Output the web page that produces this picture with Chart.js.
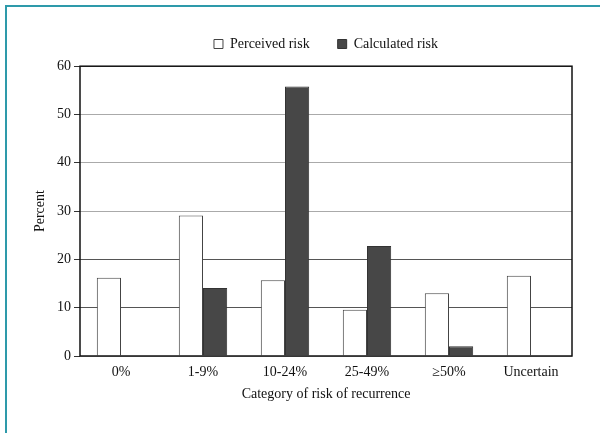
<!DOCTYPE html>
<html>
<head>
<meta charset="utf-8">
<script src="https://cdn.jsdelivr.net/npm/chart.js@4"></script>
<style>
  body { margin: 0; background: #fff; }
  #wrap { position: relative; width: 600px; height: 433px; }
  #frame { position: absolute; left: 5px; top: 5px; right: -5px; bottom: -5px;
           border-left: 2px solid #2e9aaa; border-top: 2px solid #2e9aaa; }
  canvas { position: absolute; left: 0; top: 0; }
</style>
</head>
<body>
<div id="wrap">
  <div id="frame"></div>
  <canvas id="chart" width="600" height="433"></canvas>
</div>
<script>
const categories = ['0%', '1-9%', '10-24%', '25-49%', '\u226550%', 'Uncertain'];
const perceived = [16.2, 29.1, 15.7, 9.6, 13.0, 16.6];
const calculated = [null, 14.1, 55.8, 22.8, 2.0, null];
const yTicks = [0, 10, 20, 30, 40, 50, 60];

const serif = 'Liberation Serif';

// box around the plot (top and right edges)
const frameBox = {
    id: 'frameBox',
    afterDraw(chart) {
        const a = chart.chartArea;
        const c = chart.ctx;
        c.save();
        c.strokeStyle = '#111';
        c.lineWidth = 1.5;
        c.strokeRect(a.left, a.top, a.right - a.left, a.bottom - a.top);
        c.restore();
    }
};

new Chart(document.getElementById('chart'), {
    type: 'bar',
    data: {
        labels: categories,
        datasets: [{
            label: 'Perceived risk',
            data: perceived,
            backgroundColor: '#ffffff',
            borderColor: '#444444',
            borderWidth: 1
        }, {
            label: 'Calculated risk',
            data: calculated,
            backgroundColor: '#474747',
            borderColor: '#333333',
            borderWidth: 1
        }]
    },
    options: {
        responsive: false,
        animation: false,
        categoryPercentage: 0.59,
        barPercentage: 1,
        layout: { padding: { top: 9, right: 28, left: 0, bottom: 0 } },
        plugins: {
            legend: {
                position: 'top',
                fullSize: false,
                labels: {
                    font: { family: serif, size: 14 },
                    color: '#111',
                    boxWidth: 9,
                    boxHeight: 9,
                    padding: 28
                }
            },
            // empty spacer between legend and plot
            title: {
                display: true,
                text: ' ',
                weight: 500,
                fullSize: false,
                font: { size: 1 },
                padding: { top: 0, bottom: 4 }
            },
            tooltip: { enabled: false }
        },
        scales: {
            x: {
                grid: { display: false, drawTicks: false },
                border: { display: false },
                ticks: { font: { family: serif, size: 14 }, color: '#111', padding: 8 },
                title: {
                    display: true,
                    text: 'Category of risk of recurrence',
                    font: { family: serif, size: 14 },
                    color: '#111',
                    padding: { top: 4, bottom: 30 }
                },
                afterFit(scale) { scale.height = 77; }
            },
            y: {
                min: 0,
                max: 60,
                afterBuildTicks(scale) { scale.ticks = yTicks.map(v => ({ value: v })); },
                grid: {
                    color: ctx => (ctx.tick && (ctx.tick.value === 10 || ctx.tick.value === 20)) ? '#555' : '#aaa',
                    tickColor: '#333',
                    tickLength: 6,
                    lineWidth: 1
                },
                border: { display: false },
                ticks: { font: { family: serif, size: 14 }, color: '#111', padding: 3 },
                title: {
                    display: true,
                    text: 'Percent',
                    font: { family: serif, size: 14 },
                    color: '#111',
                    padding: { top: 32, bottom: 0 }
                },
                afterFit(scale) { scale.width = 80; }
            }
        }
    },
    plugins: [frameBox]
});
</script>
</body>
</html>
